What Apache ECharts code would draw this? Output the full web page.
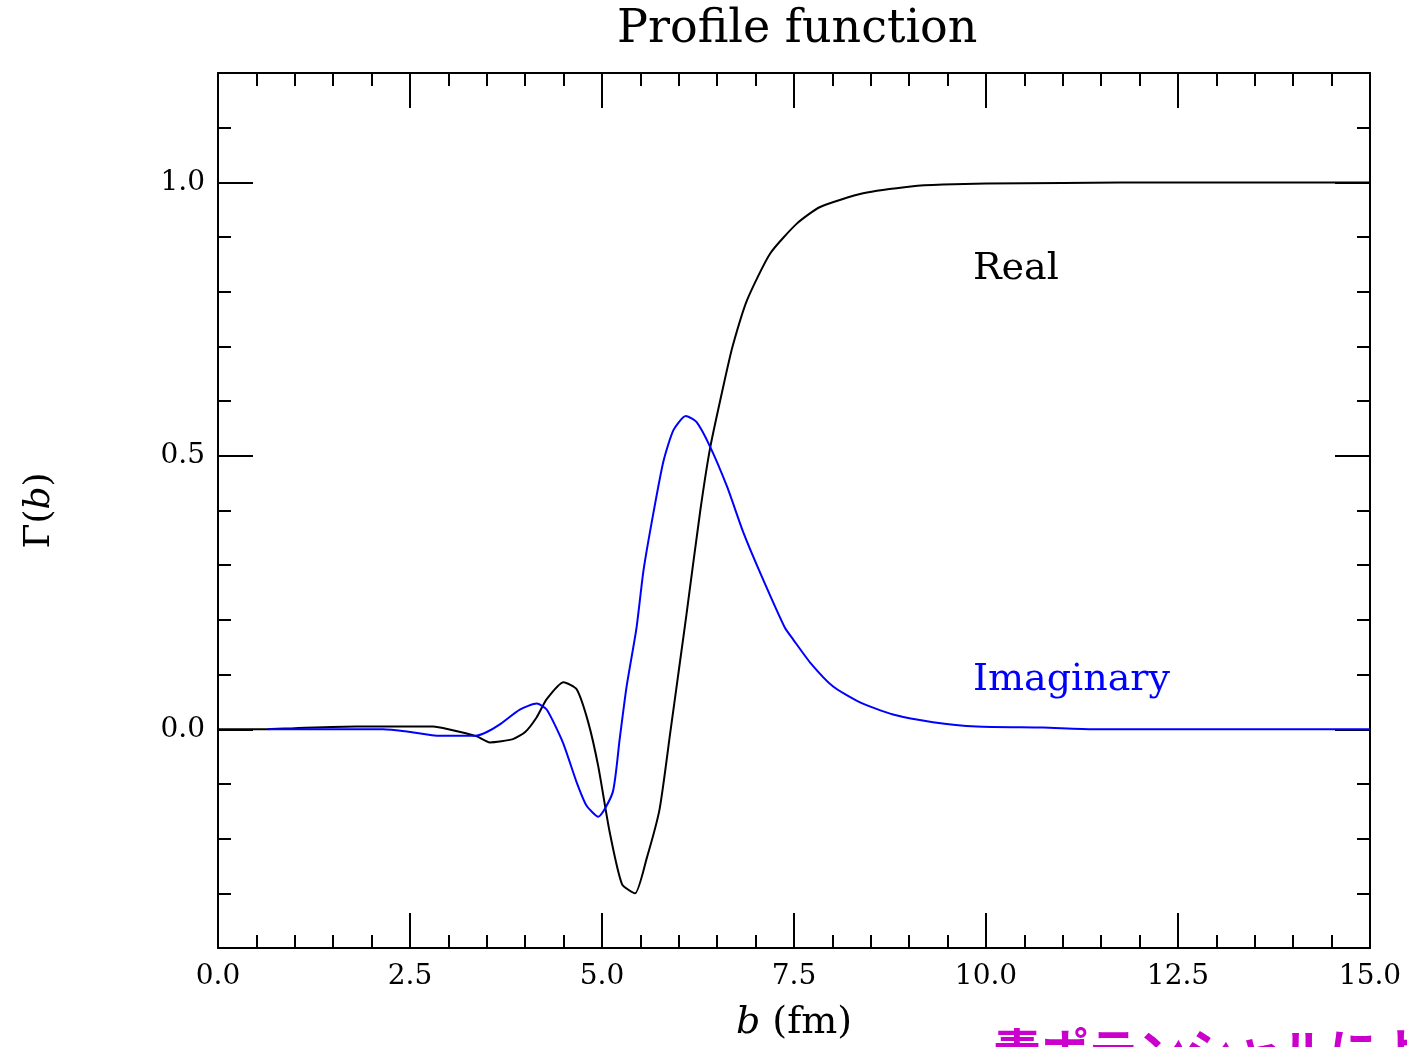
<!DOCTYPE html>
<html>
<head>
<meta charset="utf-8">
<title>Profile function</title>
<script src="https://cdn.jsdelivr.net/npm/echarts@6/dist/echarts.min.js"></script>
<style>
  html, body { margin: 0; padding: 0; background: #fff; }
  #container { width: 1407px; height: 1047px; }
</style>
</head>
<body>
<div id="container"></div>
<script>
// Real part (black)
var bReal = [0, 0.6, 1.0, 1.8, 2.8, 3.0, 3.37, 3.54, 3.84, 4.0, 4.15, 4.28, 4.5, 4.67, 4.82, 4.95,
             5.1, 5.26, 5.43, 5.58, 5.75, 5.89, 6.02, 6.1, 6.28, 6.41, 6.6, 6.7, 6.89, 7.19, 7.54,
             7.84, 8.4, 9.05, 9.44, 10.0, 11.0, 12.5, 15.0];
var realVals = [0, 0, 0.002, 0.005, 0.005, 0.0, -0.013, -0.024, -0.018, -0.005, 0.022, 0.055, 0.086, 0.073, 0.013, -0.067,
                -0.188, -0.283, -0.300, -0.237, -0.146, -0.005, 0.128, 0.21, 0.40, 0.516, 0.64, 0.70, 0.785, 0.87, 0.925,
                0.955, 0.98, 0.993, 0.996, 0.998, 0.999, 1.0, 1.0];

// Imaginary part (blue)
var bImag = [0.65, 2.15, 2.46, 2.89, 3.35, 3.5, 3.67, 3.93, 4.15, 4.28, 4.49, 4.67, 4.8, 4.95, 5.14, 5.23,
             5.32, 5.45, 5.54, 5.67, 5.8, 5.93, 6.09, 6.23, 6.41, 6.63, 6.84, 7.06, 7.38, 7.49, 7.71, 8.01,
             8.36, 8.79, 9.31, 9.88, 10.74, 11.4, 15.0];
var imagVals = [0, 0, -0.004, -0.012, -0.012, -0.005, 0.009, 0.036, 0.047, 0.036, -0.024, -0.097, -0.14, -0.16, -0.115, -0.018,
                0.078, 0.186, 0.29, 0.396, 0.49, 0.547, 0.573, 0.562, 0.516, 0.443, 0.36, 0.286, 0.186, 0.164, 0.122, 0.078,
                0.049, 0.027, 0.013, 0.005, 0.003, 0, 0];

var yMajor = [0, 0.5, 1.0];

var serif = 'DejaVu Serif';

function pairs(xs, ys) {
    return xs.map(function (x, i) { return [x, ys[i]]; });
}

var dom = document.getElementById('container');
var myChart = echarts.init(dom);

var frameLine = { show: true, onZero: false, lineStyle: { color: '#000', width: 2 } };

function xAxisOf(pos, withLabels) {
    return {
        type: 'value',
        position: pos,
        min: 0,
        max: 15,
        interval: 2.5,
        axisLine: frameLine,
        axisTick: { show: true, inside: true, length: 35, lineStyle: { color: '#000', width: 2 } },
        minorTick: { show: true, splitNumber: 5, length: 13, lineStyle: { color: '#000', width: 2 } },
        splitLine: { show: false },
        minorSplitLine: { show: false },
        axisLabel: {
            show: withLabels,
            margin: 15,
            color: '#000',
            fontFamily: serif,
            fontSize: 28,
            formatter: function (v) { return v.toFixed(1); }
        },
        name: withLabels ? '{i|b} (fm)' : '',
        nameLocation: 'middle',
        nameGap: 56,
        nameTextStyle: {
            color: '#000', fontFamily: serif, fontSize: 38,
            rich: { i: { fontFamily: serif, fontSize: 38, fontStyle: 'italic', color: '#000' } }
        }
    };
}

// minor y ticks every 0.1
function yMinorOf(pos, withLabels) {
    return {
        type: 'value',
        position: pos,
        min: -0.4,
        max: 1.2,
        interval: 0.1,
        axisLine: frameLine,
        axisTick: { show: true, inside: true, length: 13, lineStyle: { color: '#000', width: 2 } },
        splitLine: { show: false },
        axisLabel: {
            show: withLabels,
            margin: 13,
            color: '#000',
            fontFamily: serif,
            fontSize: 28,
            formatter: function (v) {
                for (var i = 0; i < yMajor.length; i++) {
                    if (Math.abs(v - yMajor[i]) < 1e-6) return yMajor[i].toFixed(1);
                }
                return '';
            }
        },
        name: withLabels ? 'Γ({i|b})' : '',
        nameLocation: 'middle',
        nameGap: 160,
        nameTextStyle: {
            color: '#000', fontFamily: serif, fontSize: 36,
            rich: { i: { fontFamily: serif, fontSize: 36, fontStyle: 'italic', color: '#000' } }
        }
    };
}

// long y ticks at 0.0, 0.5, 1.0
function yMajorOf(pos) {
    return {
        type: 'value',
        position: pos,
        min: -0.4,
        max: 1.2,
        axisLine: { show: false, onZero: false },
        axisTick: { show: true, inside: true, length: 35, customValues: yMajor, lineStyle: { color: '#000', width: 2 } },
        axisLabel: { show: false, customValues: yMajor },
        splitLine: { show: false }
    };
}

var option = {
    backgroundColor: '#fff',
    animation: false,
    title: {
        text: 'Profile function',
        left: 612,
        top: 2,
        textStyle: { color: '#000', fontFamily: serif, fontSize: 46, fontWeight: 'normal' }
    },
    grid: { left: 218, right: 37, top: 73, bottom: 99, outerBoundsMode: 'none' },
    xAxis: [xAxisOf('bottom', true), xAxisOf('top', false)],
    yAxis: [yMinorOf('left', true), yMajorOf('left'), yMinorOf('right', false), yMajorOf('right')],
    series: [
        {
            name: 'Real',
            type: 'line',
            xAxisIndex: 0,
            yAxisIndex: 0,
            data: pairs(bReal, realVals),
            showSymbol: false,
            smooth: 0.2,
            lineStyle: { color: '#000', width: 2 },
            z: 2
        },
        {
            name: 'Imaginary',
            type: 'line',
            xAxisIndex: 0,
            yAxisIndex: 0,
            data: pairs(bImag, imagVals),
            showSymbol: false,
            smooth: 0.2,
            lineStyle: { color: '#0000ff', width: 2 },
            z: 3
        }
    ],
    graphic: [
        {
            type: 'text', left: 973, top: 250,
            style: { text: 'Real', fill: '#000', font: '38px "DejaVu Serif"' }
        },
        {
            type: 'text', left: 973, top: 661,
            style: { text: 'Imaginary', fill: '#0000ff', font: '38px "DejaVu Serif"' }
        },
        {
            type: 'text', left: 993, top: 1027,
            style: { text: '素ポテンシャルによる', fill: '#cc00cc', font: 'bold 48px "Noto Sans CJK JP"' }
        }
    ]
};

myChart.setOption(option, true);
</script>
</body>
</html>
